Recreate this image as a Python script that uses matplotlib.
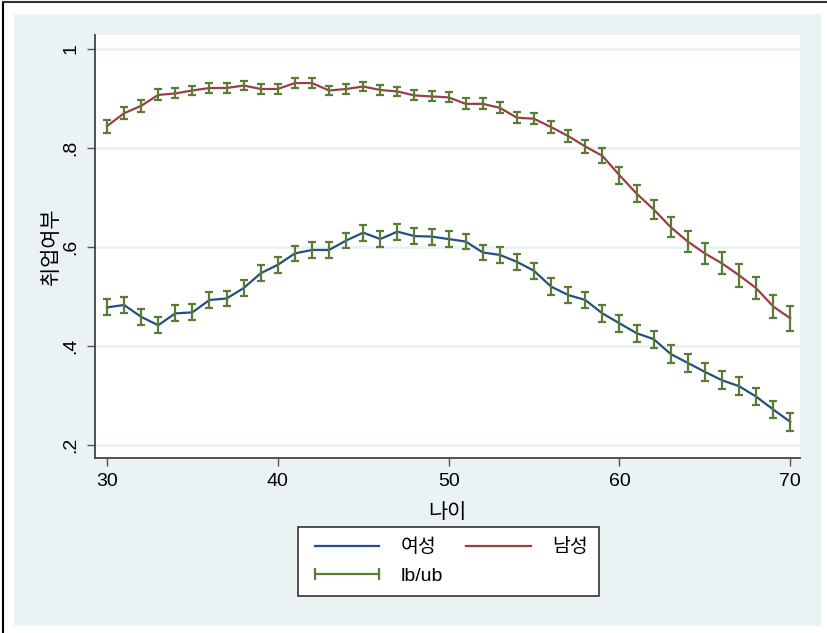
import numpy as np
import matplotlib
matplotlib.use("Agg")
import matplotlib.pyplot as plt
from matplotlib.lines import Line2D
from matplotlib.patches import Rectangle

plt.rcParams['font.family'] = ['Liberation Sans', 'Noto Sans CJK KR', 'DejaVu Sans']

# data
age = list(range(30, 71))
women = [0.478, 0.483, 0.459, 0.442, 0.466, 0.468, 0.493, 0.496, 0.517, 0.547,
         0.564, 0.587, 0.594, 0.594, 0.613, 0.629, 0.616, 0.631, 0.622, 0.621,
         0.616, 0.611, 0.589, 0.584, 0.570, 0.552, 0.520, 0.503, 0.493, 0.466,
         0.446, 0.426, 0.414, 0.384, 0.366, 0.348, 0.331, 0.319, 0.298, 0.272,
         0.247]
men = [0.844, 0.870, 0.885, 0.907, 0.910, 0.916, 0.921, 0.921, 0.926, 0.919,
       0.919, 0.931, 0.931, 0.916, 0.919, 0.924, 0.917, 0.914, 0.906, 0.904,
       0.902, 0.889, 0.889, 0.881, 0.861, 0.859, 0.842, 0.824, 0.803, 0.784,
       0.745, 0.708, 0.676, 0.640, 0.611, 0.587, 0.567, 0.543, 0.517, 0.480,
       0.456]
# half width of the confidence band (lb/ub)
women_ci = [0.016] * 26 + [0.017] * 7 + [0.018] * 8
men_ci = ([0.013, 0.012, 0.012, 0.011] + [0.010] * 17 + [0.011] * 5 +
          [0.012, 0.013, 0.014, 0.015, 0.017, 0.018, 0.019, 0.020, 0.021,
           0.021, 0.022, 0.023, 0.023, 0.024, 0.025])

yticks = [0.2, 0.4, 0.6, 0.8, 1.0]
ytick_labels = ['.2', '.4', '.6', '.8', '1']
xticks = [30, 40, 50, 60, 70]

blue = '#245082'
red = '#9a3e47'
green = '#5a7c35'
bg = '#eaf2f3'

W, H = 827, 633
fig = plt.figure(figsize=(W / 100, H / 100), dpi=100)
fig.patch.set_facecolor('white')
fig.patches.append(Rectangle((14 / W, 1 - 626 / H), (821 - 14) / W, (626 - 14) / H,
                             transform=fig.transFigure, facecolor=bg,
                             edgecolor='none', zorder=-5))
# frame edges of the screenshot
fig.lines.append(Line2D([3 / W, 3 / W], [0, 1 - 2 / H], transform=fig.transFigure,
                        color='black', lw=1.5, zorder=-4))
fig.lines.append(Line2D([3 / W, 1], [1 - 2 / H, 1 - 2 / H], transform=fig.transFigure,
                        color='#333333', lw=1.5, zorder=-4))

ax = fig.add_axes([95 / W, 1 - 458 / H, (800 - 95) / W, (458 - 35) / H])
ax.set_facecolor('white')

ax.plot(age, women, color=blue, lw=1.6, zorder=3)
ax.plot(age, men, color=red, lw=1.6, zorder=3)
ax.errorbar(age, women, yerr=women_ci, fmt='none', ecolor=green, elinewidth=1.6,
            capsize=3.2, capthick=1.6, zorder=4)
ax.errorbar(age, men, yerr=men_ci, fmt='none', ecolor=green, elinewidth=1.6,
            capsize=3.2, capthick=1.6, zorder=4)

ax.set_xlim(29.3, 70.57)
ax.set_ylim(0.174, 1.028)
ax.set_xticks(xticks)
ax.set_yticks(yticks)
ax.set_yticklabels(ytick_labels, rotation=90, va='center')
ax.tick_params(axis='both', labelsize=14, colors='#555555', length=6, width=1,
               labelcolor='black')
ax.tick_params(axis='x', pad=5)
ax.tick_params(axis='y', pad=5)
ax.grid(axis='y', color=bg, lw=2)
ax.set_axisbelow(True)
for s in ['top', 'right']:
    ax.spines[s].set_visible(False)
for s in ['left', 'bottom']:
    ax.spines[s].set_color('#444444')
    ax.spines[s].set_linewidth(1.3)

ax.set_xlabel('나이', fontsize=15, labelpad=9)
ax.set_ylabel('취업여부', fontsize=15, labelpad=1)

handles = [Line2D([], [], color=blue, lw=1.6),
           Line2D([], [], color=green, lw=1.6, marker='|', markersize=8,
                  markeredgewidth=1.6),
           Line2D([], [], color=red, lw=1.6)]
labels = ['여성', 'lb/ub', '남성']
leg = fig.legend(handles, labels, loc='center', bbox_to_anchor=(448.5 / W, 1 - 561.5 / H),
                 ncol=2, numpoints=2, fontsize=14, handlelength=3.9, handletextpad=0.8,
                 columnspacing=0.9, labelspacing=0.55, fancybox=False, framealpha=1,
                 edgecolor='#333333', borderpad=0.6)
leg.get_frame().set_linewidth(1.2)

fig.savefig('out.png', dpi=100)
